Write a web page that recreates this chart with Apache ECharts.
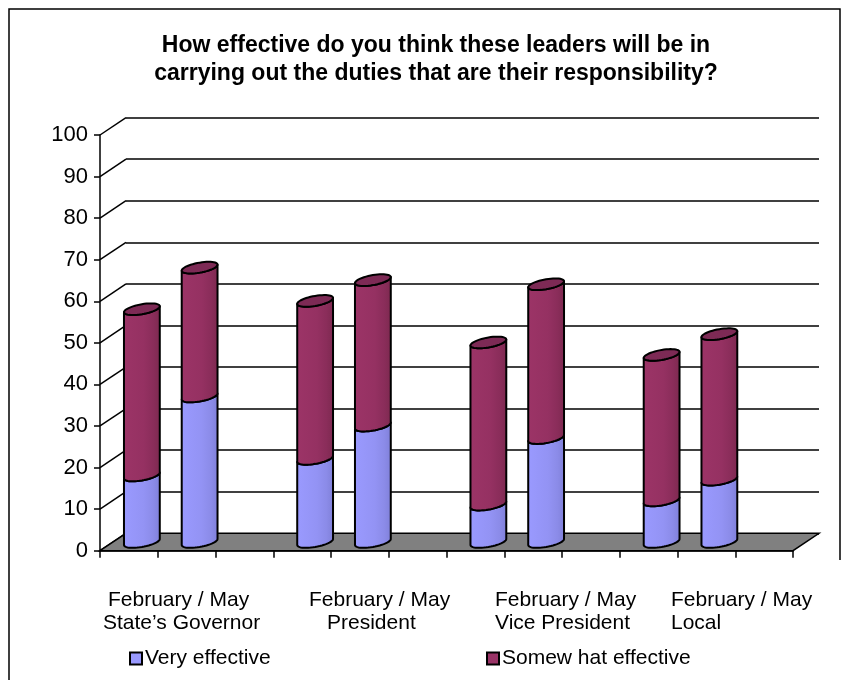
<!DOCTYPE html>
<html>
<head>
<meta charset="utf-8">
<script src="https://cdn.jsdelivr.net/npm/echarts@6/dist/echarts.min.js"></script>
<style>
  html, body { margin: 0; padding: 0; background: #ffffff; }
  #chart { width: 848px; height: 680px; }
</style>
</head>
<body>
<div id="chart"></div>
<script>
// Survey: how effective leaders will be, February vs May, per office
const titleLines = [
  'How effective do you think these leaders will be in',
  'carrying out the duties that are their responsibility?'
];
const groups = ['State\u2019s Governor', 'President', 'Vice President', 'Local'];
const periods = ['February', 'May'];
const seriesNames = ['Very effective', 'Somew hat effective'];
// one value per bar: Feb/May for each office, in group order
const veryEffective = [16, 35, 20, 28, 9, 25, 10, 15];
const somewhatEffective = [40, 31, 38, 35, 39, 37, 35, 35];
const yTicks = [0, 10, 20, 30, 40, 50, 60, 70, 80, 90, 100];

// 3D look: depth offset from the front plane to the back wall
const DX = 26, DY = -17.4;
const FONT = '"Liberation Sans", Arial, sans-serif';

// category slots: two bars per office plus an empty spacer slot
const slotNames = [];
const barSlots = [];
groups.forEach(function (g) {
  periods.forEach(function (p) {
    barSlots.push(slotNames.length);
    slotNames.push(p + ' ' + g);
  });
  slotNames.push(g + ' spacer');
});

const veryData = barSlots.map(function (s, i) { return [s, 0, veryEffective[i]]; });
const somewhatData = barSlots.map(function (s, i) {
  return [s, veryEffective[i], veryEffective[i] + somewhatEffective[i]];
});
const sideData = yTicks.map(function (v) { return [0, v]; });

const FRONT = { left: 100, right: 55, top: 135, bottom: 129.3 };

function ellipsePoints(cx, cy, a, b, s, t0, t1, n) {
  const pts = [];
  for (let k = 0; k <= n; k++) {
    const t = t0 + (t1 - t0) * k / n;
    pts.push([cx + a * Math.cos(t), cy + b * Math.sin(t) - s * Math.cos(t)]);
  }
  return pts;
}

function cylinderRenderer(bodyStops, capColor) {
  return function (params, api) {
    const slot = api.value(0);
    const lo = api.coord([slot, api.value(1)]);
    const hi = api.coord([slot, api.value(2)]);
    const w = api.size([1, 0])[0] * 0.62;
    const cx = lo[0] + DX / 2;
    const yb = lo[1] + DY / 2;
    const yt = hi[1] + DY / 2;
    const a = w / 2, b = 5, s = 3;
    // body: left edge, front half of bottom ellipse, right edge, front half of top ellipse
    let pts = [];
    pts = pts.concat(ellipsePoints(cx, yb, a, b, s, Math.PI, 0, 24));
    pts = pts.concat(ellipsePoints(cx, yt, a, b, s, 0, Math.PI, 24));
    const children = [{
      type: 'polygon',
      shape: { points: pts },
      style: {
        fill: new echarts.graphic.LinearGradient(0, 0, 1, 0, bodyStops),
        stroke: '#000', lineWidth: 2, lineJoin: 'round'
      }
    }];
    if (capColor) {
      children.push({
        type: 'polygon',
        shape: { points: ellipsePoints(cx, yt, a, b, s, 0, Math.PI * 2, 48) },
        style: { fill: capColor, stroke: '#000', lineWidth: 2 }
      });
    }
    return { type: 'group', children: children };
  };
}

const chart = echarts.init(document.getElementById('chart'), null, { renderer: 'canvas' });

const labelFont = '21px ' + FONT;

chart.setOption({
  backgroundColor: '#ffffff',
  animation: false,
  title: {
    text: titleLines.join('\n'),
    left: 431,
    top: 27,
    textAlign: 'center',
    textStyle: { fontFamily: FONT, fontSize: 23, fontWeight: 'bold', color: '#000', lineHeight: 28 }
  },
  legend: [
    {
      data: [seriesNames[0]], left: 124, top: 643, icon: 'rect',
      itemWidth: 12, itemHeight: 12, itemGap: 4,
      textStyle: { fontFamily: FONT, fontSize: 21, color: '#000', padding: [0, 0, 0, -2] }
    },
    {
      data: [seriesNames[1]], left: 481, top: 643, icon: 'rect',
      itemWidth: 12, itemHeight: 12, itemGap: 4,
      textStyle: { fontFamily: FONT, fontSize: 21, color: '#000', padding: [0, 0, 0, -2] }
    }
  ],
  grid: [
    // front plane: value axis and category ticks
    { left: FRONT.left, right: FRONT.right, top: FRONT.top, bottom: FRONT.bottom },
    // back wall: gridlines
    { left: FRONT.left + DX, right: FRONT.right - DX, top: FRONT.top + DY, bottom: FRONT.bottom - DY }
  ],
  xAxis: [
    {
      gridIndex: 0, type: 'category', data: slotNames, boundaryGap: true,
      axisLine: { lineStyle: { color: '#000', width: 1.5 } },
      axisTick: { show: true, interval: 0, length: 7, alignWithLabel: false, lineStyle: { color: '#000', width: 1.5 } },
      axisLabel: { show: false, interval: 0 }, splitLine: { show: false }
    },
    {
      gridIndex: 1, type: 'category', data: slotNames, show: false
    }
  ],
  yAxis: [
    {
      gridIndex: 0, type: 'value', min: 0, max: 100, interval: 10,
      axisLine: { show: true, lineStyle: { color: '#000', width: 1.5 } },
      axisTick: { show: true, length: 6, lineStyle: { color: '#000', width: 1.5 } },
      axisLabel: { fontFamily: FONT, fontSize: 22, color: '#000', margin: 12 },
      splitLine: { show: false }
    },
    {
      gridIndex: 1, type: 'value', min: 0, max: 100, interval: 10,
      axisLine: { show: false }, axisTick: { show: false }, axisLabel: { show: false },
      splitLine: { show: true, lineStyle: { color: '#000', width: 1.5 } }
    }
  ],
  graphic: [
    // chart frame
    { type: 'polyline', shape: { points: [[9, 690], [9, 9], [840, 9], [840, 560]] },
      style: { stroke: '#000', lineWidth: 1.5, fill: null }, silent: true },
    // group labels under the category axis
    { type: 'text', left: 108, top: 590, style: { text: periods.join(' / '), font: labelFont, fill: '#000' } },
    { type: 'text', left: 103, top: 613, style: { text: groups[0], font: labelFont, fill: '#000' } },
    { type: 'text', left: 309, top: 590, style: { text: periods.join(' / '), font: labelFont, fill: '#000' } },
    { type: 'text', left: 327, top: 613, style: { text: groups[1], font: labelFont, fill: '#000' } },
    { type: 'text', left: 495, top: 590, style: { text: periods.join(' / '), font: labelFont, fill: '#000' } },
    { type: 'text', left: 495, top: 613, style: { text: groups[2], font: labelFont, fill: '#000' } },
    { type: 'text', left: 671, top: 590, style: { text: periods.join(' / '), font: labelFont, fill: '#000' } },
    { type: 'text', left: 671, top: 613, style: { text: groups[3], font: labelFont, fill: '#000' } }
  ],
  series: [
    {
      // side wall: lines joining front ticks to back-wall gridlines
      type: 'custom', name: 'side', xAxisIndex: 0, yAxisIndex: 0, silent: true, z: 1,
      data: sideData, encode: { x: 0, y: 1 },
      renderItem: function (params, api) {
        const p = api.coord([api.value(0), api.value(1)]);
        const x0 = params.coordSys.x;
        return {
          type: 'line',
          shape: { x1: x0, y1: p[1], x2: x0 + DX, y2: p[1] + DY },
          style: { stroke: '#000', lineWidth: 1.5 }
        };
      }
    },
    {
      // floor
      type: 'custom', name: 'floor', xAxisIndex: 0, yAxisIndex: 0, silent: true, z: 2,
      data: [[0, 0]], encode: { x: 0, y: 1 },
      renderItem: function (params, api) {
        const y0 = api.coord([0, 0])[1];
        const cs = params.coordSys;
        return {
          type: 'polygon',
          shape: { points: [[cs.x, y0], [cs.x + DX, y0 + DY], [cs.x + cs.width + DX, y0 + DY], [cs.x + cs.width, y0]] },
          style: { fill: '#808080', stroke: '#000', lineWidth: 1.5 }
        };
      }
    },
    {
      type: 'custom', name: seriesNames[0], xAxisIndex: 0, yAxisIndex: 0, z: 3,
      itemStyle: { color: '#9999FF', borderColor: '#000', borderWidth: 1.5 },
      data: veryData, encode: { x: 0, y: [1, 2] },
      renderItem: cylinderRenderer([
        { offset: 0, color: '#9a9aff' }, { offset: 0.55, color: '#9393f4' },
        { offset: 0.8, color: '#8b8be8' }, { offset: 1, color: '#7f7fd8' }
      ], null)
    },
    {
      type: 'custom', name: seriesNames[1], xAxisIndex: 0, yAxisIndex: 0, z: 4,
      itemStyle: { color: '#993366', borderColor: '#000', borderWidth: 1.5 },
      data: somewhatData, encode: { x: 0, y: [1, 2] },
      renderItem: cylinderRenderer([
        { offset: 0, color: '#9c3467' }, { offset: 0.55, color: '#953162' },
        { offset: 0.8, color: '#8a2d5a' }, { offset: 1, color: '#7c294f' }
      ], '#7d2a55')
    }
  ]
});
</script>
</body>
</html>
